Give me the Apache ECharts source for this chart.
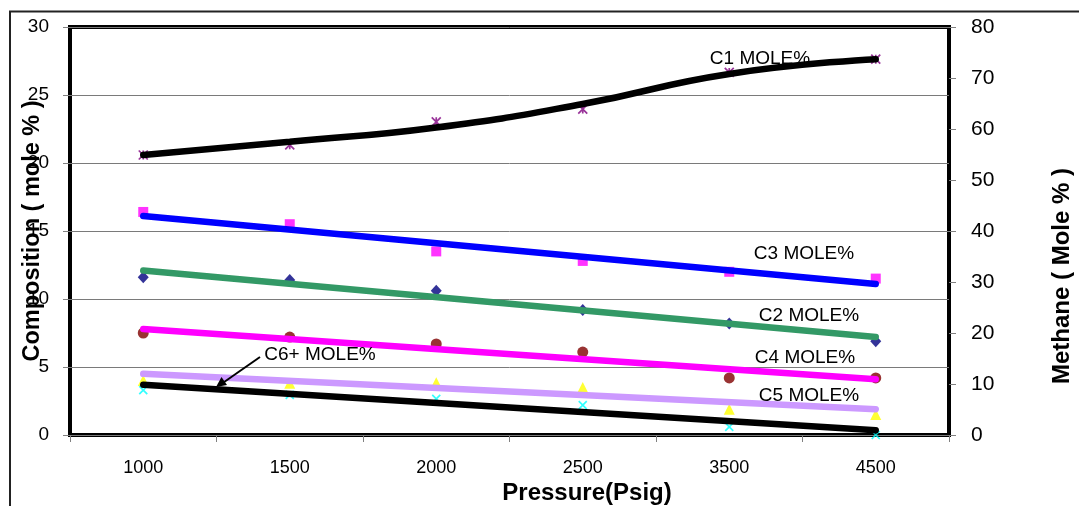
<!DOCTYPE html>
<html><head><meta charset="utf-8">
<script src="https://cdn.jsdelivr.net/npm/echarts@6/dist/echarts.min.js"></script>
<style>html,body{margin:0;padding:0;background:#fff}#c{width:1079px;height:506px}</style>
</head><body><div id="c"></div>
<script>
// ---- data ----
const pressures = ['1000', '1500', '2000', '2500', '3500', '4500'];
const leftAxisRange = [0, 30, 5];    // min, max, interval (Composition)
const rightAxisRange = [0, 80, 10];  // min, max, interval (Methane)

const c1Points = [54.9, 56.9, 61.4, 63.9, 71.1, 73.7];
const c1Trend  = [54.9, 57.5, 60.3, 64.9, 70.8, 73.7];
const c3Points = [16.4, 15.5, 13.5, 12.8, 12.0, 11.5];
const c3Trend  = [16.1, null, null, null, null, 11.1];
const c2Points = [11.6, 11.4, 10.6, 9.2, 8.2, 6.9];
const c2Trend  = [12.1, null, null, null, null, 7.2];
const c4Points = [7.5, 7.2, 6.7, 6.1, 4.2, 4.2];
const c4Trend  = [7.8, null, null, null, null, 4.1];
const c5Points = [4.0, 3.8, 3.85, 3.5, 1.9, 1.5];
const c5Trend  = [4.5, null, null, null, null, 1.9];
const c6Points = [3.3, 2.95, 2.65, 2.2, 0.6, 0.0];
const c6Trend  = [3.7, null, null, null, null, 0.35];

const FONT = 'Liberation Sans, Arial, sans-serif';
const chart = echarts.init(document.getElementById('c'));

function scatter(name, data, symbol, size, color, yIdx, strokeOnly) {
  return {
    name, type: 'scatter', data, yAxisIndex: yIdx, symbol, symbolSize: size, z: 2,
    itemStyle: strokeOnly ? { color: 'rgba(0,0,0,0)', borderColor: color, borderWidth: 1.7 } : { color },
    emphasis: { disabled: true }
  };
}
function trend(name, data, color, yIdx, smooth) {
  return {
    name, type: 'line', data, yAxisIndex: yIdx, connectNulls: true, showSymbol: false,
    smooth: smooth ? 0.5 : false, z: 3,
    lineStyle: { color, width: 6.5, cap: 'round' }, emphasis: { disabled: true }
  };
}

const starPath = 'path://M0,0L10,10M10,0L0,10M5,0L5,10';
const xPath = 'path://M0,0L10,10M10,0L0,10';

const lbl = (text, x, y) => ({ type: 'text', z: 100, x, y, style: { text, font: '19px ' + FONT, fill: '#000', align: 'center', verticalAlign: 'middle' } });

const option = {
  animation: false,
  backgroundColor: '#fff',
  textStyle: { fontFamily: FONT },
  grid: { left: 70, right: 130, top: 27, bottom: 71, show: true, borderColor: '#000', borderWidth: 4, backgroundColor: 'transparent' },
  xAxis: {
    type: 'category', data: pressures, boundaryGap: true,
    axisLine: { show: false },
    axisTick: { show: true, length: 7, lineStyle: { color: '#808080' } },
    axisLabel: { color: '#000', fontSize: 18, margin: 24, fontFamily: FONT }
  },
  yAxis: [
    {
      type: 'value', min: leftAxisRange[0], max: leftAxisRange[1], interval: leftAxisRange[2],
      axisLine: { show: false },
      axisTick: { show: true, length: 7, lineStyle: { color: '#808080' } },
      axisLabel: { color: '#000', fontSize: 19, margin: 21, fontFamily: FONT },
      splitLine: { show: true, lineStyle: { color: '#7a7a7a', width: 1 } }
    },
    {
      type: 'value', position: 'right', min: rightAxisRange[0], max: rightAxisRange[1], interval: rightAxisRange[2],
      axisLine: { show: false },
      axisTick: { show: true, length: 7, lineStyle: { color: '#808080' } },
      axisLabel: { color: '#000', fontSize: 21, margin: 22, fontFamily: FONT },
      splitLine: { show: false }
    }
  ],
  series: [
    scatter('C1 MOLE%', c1Points, starPath, 9, '#800080', 1, true),
    scatter('C3 MOLE%', c3Points, 'rect', 10, '#FF00FF', 0),
    scatter('C2 MOLE%', c2Points, 'diamond', [11, 12], '#000080', 0),
    scatter('C4 MOLE%', c4Points, 'circle', 11, '#800000', 0),
    scatter('C5 MOLE%', c5Points, 'triangle', 11, '#FFFF00', 0),
    scatter('C6+ MOLE%', c6Points, xPath, 8, '#00FFFF', 0, true),
    trend('C1 trend', c1Trend, '#000000', 1, true),
    trend('C3 trend', c3Trend, '#0000FF', 0),
    trend('C2 trend', c2Trend, '#339966', 0),
    trend('C4 trend', c4Trend, '#FF00FF', 0),
    trend('C5 trend', c5Trend, '#CC99FF', 0),
    trend('C6+ trend', c6Trend, '#000000', 0)
  ],
  graphic: [
    { type: 'rect', z: 0, silent: true, shape: { x: 10, y: 11.5, width: 1200, height: 700 }, style: { fill: 'none', stroke: '#222', lineWidth: 2 } },
    { type: 'text', z: 100, x: 33, y: 231, rotation: Math.PI / 2, style: { text: 'Composition ( mole % )', font: 'bold 23.5px ' + FONT, fill: '#000', align: 'center', verticalAlign: 'middle' } },
    { type: 'text', z: 100, x: 1062, y: 276, rotation: Math.PI / 2, style: { text: 'Methane ( Mole % )', font: 'bold 24px ' + FONT, fill: '#000', align: 'center', verticalAlign: 'middle' } },
    { type: 'text', z: 100, x: 587, y: 493, style: { text: 'Pressure(Psig)', font: 'bold 24px ' + FONT, fill: '#000', align: 'center', verticalAlign: 'middle' } },
    lbl('C1 MOLE%', 760, 59),
    lbl('C3 MOLE%', 804, 254),
    lbl('C2 MOLE%', 809, 316),
    lbl('C4 MOLE%', 805, 358),
    lbl('C5 MOLE%', 809, 396),
    lbl('C6+ MOLE%', 320, 355),
    { type: 'line', z: 100, shape: { x1: 260, y1: 357, x2: 222, y2: 383.5 }, style: { stroke: '#000', lineWidth: 2 } },
    { type: 'polygon', z: 100, shape: { points: [[216, 387], [227, 385], [221.5, 377]] }, style: { fill: '#000' } }
  ]
};
chart.setOption(option);
</script>
</body></html>
